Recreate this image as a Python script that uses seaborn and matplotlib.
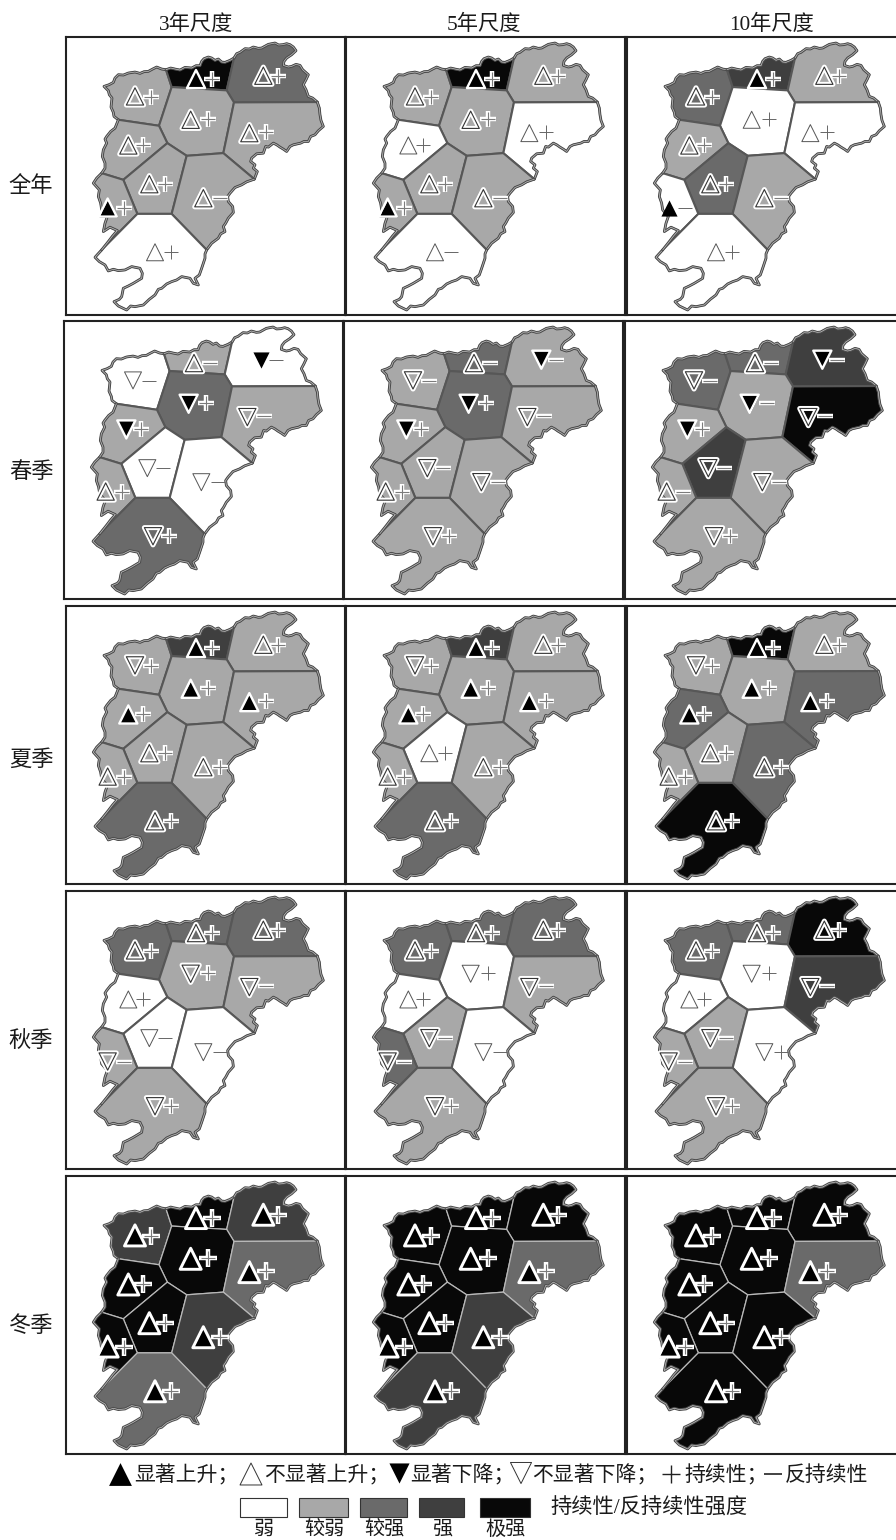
import pandas as pd
import seaborn as sns
import matplotlib.pyplot as plt
import matplotlib.patheffects as pe
from matplotlib.patches import Rectangle

scales = ["3年尺度", "5年尺度", "10年尺度"]
seasons = ["全年", "春季", "夏季", "秋季", "冬季"]
regions = ["NW", "N", "NE", "C", "E", "W", "SC", "SE", "FW", "S"]
level_names = ["弱", "较弱", "较强", "强", "极强"]
level_colors = ["#ffffff", "#a8a8a8", "#6a6a6a", "#3f3f3f", "#080808"]

# one list per scale, regions in the order above. 0-4 = strength level
year_levels = [[1, 4, 2, 1, 1, 1, 1, 1, 1, 0], [1, 4, 1, 1, 0, 0, 1, 1, 1, 0], [2, 3, 1, 0, 0, 1, 2, 1, 0, 0]]
spring_levels = [[0, 1, 0, 2, 1, 1, 0, 0, 1, 2], [1, 2, 1, 2, 1, 1, 1, 1, 1, 1], [2, 2, 3, 1, 4, 1, 3, 1, 1, 1]]
summer_levels = [[1, 3, 1, 1, 1, 1, 1, 1, 1, 2], [1, 3, 1, 1, 1, 1, 0, 1, 1, 2], [1, 4, 1, 1, 2, 2, 1, 2, 1, 4]]
autumn_levels = [[2, 2, 2, 1, 1, 0, 0, 0, 1, 1], [2, 2, 2, 0, 1, 0, 1, 0, 2, 1], [2, 2, 4, 0, 3, 0, 1, 0, 1, 1]]
winter_levels = [[3, 4, 3, 4, 2, 4, 4, 3, 4, 2], [4, 4, 4, 4, 2, 4, 4, 3, 4, 3], [4, 4, 4, 4, 2, 4, 4, 4, 4, 4]]

# U/D = significant rise/fall (filled), u/d = not significant (open)
year_trend = ["uUuuuuuuUu", "uUuuuuuuUu", "uUuuuuuuUu"]
spring_trend = ["duDDdDddud", "duDDdDddud", "duDDdDddud"]
summer_trend = ["dUuUUUuuuu", "dUuUUUuuuu", "dUuUUUuuuu"]
autumn_trend = ["uuuddudddd", "uuuddudddd", "uuuddudddd"]
winter_trend = ["UUUUUUUUUU", "UUUUUUUUUU", "UUUUUUUUUU"]

year_sign = ["+++++++-++", "+++++++-+-", "+++++++--+"]
spring_sign = ["---+-+--++", "---+-+--++", "-----+---+"]
summer_sign = ["++++++++++", "++++++++++", "++++++++++"]
autumn_sign = ["++++-+---+", "++++-+---+", "++++-+-+-+"]
winter_sign = ["++++++++++", "++++++++++", "++++++++++"]

# outline of the province, traced in panel units
coast_nw = [(175, 270), (162, 260), (160, 248), (153, 232), (156, 205), (148, 195), (145, 183), (132, 170), (147, 165),
            (160, 158), (165, 145), (175, 135), (190, 136), (205, 130), (225, 127), (240, 131), (252, 126), (265, 125),
            (278, 118), (290, 112), (305, 118), (318, 120)]
coast_n = [(318, 120), (332, 115), (345, 118), (360, 121), (375, 113), (395, 115), (408, 108), (420, 108), (425, 95),
           (432, 87), (445, 82), (455, 85), (465, 92), (475, 88), (485, 97), (495, 98), (510, 92), (522, 85)]
coast_ne = [(522, 85), (530, 72), (540, 68), (555, 57), (568, 58), (580, 52), (595, 56), (605, 55), (625, 44), (645, 40),
            (656, 46), (668, 45), (680, 42), (690, 45), (700, 52), (708, 63), (695, 75), (680, 85), (672, 95), (670, 107),
            (685, 112), (695, 110), (708, 104), (720, 107), (728, 120), (745, 135), (738, 150), (730, 165), (738, 180),
            (745, 200), (758, 205), (772, 217)]
coast_e = [(772, 217), (778, 235), (780, 255), (783, 272), (790, 290), (775, 303), (765, 315), (752, 320), (745, 335),
           (732, 335), (722, 340), (700, 345), (690, 350), (680, 365), (670, 358), (660, 352), (650, 345), (640, 340),
           (625, 352), (617, 350), (610, 370), (590, 372), (575, 385), (572, 395), (585, 405), (580, 415), (592, 425), (583, 448)]
coast_se = [(583, 448), (560, 456), (545, 465), (525, 473), (510, 490), (503, 500), (505, 515), (518, 530), (520, 548),
            (505, 565), (497, 580), (490, 590), (495, 605), (482, 612), (475, 625), (455, 640), (440, 660)]
coast_s = [(440, 660), (435, 672), (435, 685), (425, 715), (418, 735), (405, 745), (415, 765), (400, 760), (390, 745),
           (365, 740), (350, 750), (335, 755), (320, 762), (305, 775), (295, 778), (285, 795), (268, 808), (250, 825),
           (225, 830), (212, 828), (200, 840), (175, 828), (162, 815), (178, 808), (185, 800), (190, 775), (205, 768),
           (220, 760), (245, 745), (247, 730), (240, 715), (215, 710), (195, 720), (175, 722), (160, 718), (145, 723),
           (135, 705), (118, 695), (105, 682), (125, 660)]
coast_fw = [(125, 660), (145, 635), (158, 618), (172, 602), (150, 592), (130, 605), (135, 580), (142, 560), (125, 540),
            (122, 520), (115, 500), (118, 480), (100, 460), (110, 445), (125, 430)]
coast_w = [(125, 430), (135, 415), (135, 400), (127, 380), (130, 360), (140, 340), (135, 328), (140, 320), (152, 305), (165, 295), (175, 270)]

# inner border nodes
B, C, E, F, G = (335, 172), (500, 182), (522, 218), (490, 370), (380, 378)
H, I, L, M, N = (322, 340), (297, 288), (190, 450), (232, 552), (335, 552)

polygons = {
    "NW": coast_nw + [B, I],
    "N": coast_n + [C, B],
    "NE": coast_ne + [E, C],
    "C": [B, C, E, F, G, H, I],
    "E": coast_e + [F, E],
    "W": coast_w + [I, H, L],
    "SC": [H, G, N, M, L],
    "SE": [G, F] + coast_se + [N],
    "S": [M, N] + coast_s,
    "FW": coast_fw + [L, M],
}
coast_parts = [coast_nw, coast_n, coast_ne, coast_e, coast_se, coast_s, coast_fw, coast_w]

# symbol anchors, same region order
tri_x = [225, 408, 610, 392, 568, 205, 268, 430, 143, 285]
tri_y = [200, 148, 138, 270, 310, 347, 463, 505, 533, 667]
sign_x = [273, 457, 655, 445, 617, 250, 315, 480, 192, 332]
sign_y = [203, 147, 138, 268, 308, 347, 463, 503, 533, 667]

levels_all = [year_levels, spring_levels, summer_levels, autumn_levels, winter_levels]
trend_all = [year_trend, spring_trend, summer_trend, autumn_trend, winter_trend]
sign_all = [year_sign, spring_sign, summer_sign, autumn_sign, winter_sign]

sns.set_theme(style="white")
plt.rcParams["font.family"] = ["Liberation Serif", "Noto Sans CJK SC", "DejaVu Sans"]

W_PX, H_PX = 896, 1540
fig = plt.figure(figsize=(W_PX / 100, H_PX / 100), dpi=100)
fig.patch.set_facecolor("white")

row_tops = [37, 321, 606, 891, 1176]
row_shift = [0, -2, 0, 0, 0]
col_lefts = [66, 346, 627]
PANEL_W, PANEL_H = 279, 278
label_y = [187, 473, 761, 1042, 1327]


def dot(ax, x, y, marker, s, z=5, **kw):
    sns.scatterplot(x=[x], y=[y], marker=marker, s=s, ax=ax, legend=False, zorder=z, **kw)


def draw_symbols(ax, df, winter):
    mk = {"u": "^", "U": "^", "d": "v", "D": "v"}
    for _, r in df.iterrows():
        m = mk[r.trend]
        solid = r.trend in "UD"
        if r.level == 0:
            # plain symbols on white regions
            if solid:
                dot(ax, r.tx, r.ty, m, 135, color="black", linewidth=0)
            else:
                dot(ax, r.tx, r.ty, m, 150, facecolor="none", edgecolor="#555555", linewidth=0.7)
        else:
            if solid:
                size = 230 if winter else 170
                dot(ax, r.tx, r.ty, m, size, z=5, color="black", linewidth=0)
                dot(ax, r.tx, r.ty, m, size, z=6, facecolor="none", edgecolor="white", linewidth=2.1 if winter else 1.7)
            else:
                dot(ax, r.tx, r.ty, m, 155, z=5, facecolor="none", edgecolor="white", linewidth=3.6)
                dot(ax, r.tx, r.ty, m, 155, z=6, facecolor="none", edgecolor="#333333", linewidth=0.8)
        sm = "+" if r.sign == "+" else "_"
        if r.level == 0:
            dot(ax, r.sx, r.sy, sm, 100, color="#666666", linewidth=0.7)
        else:
            dot(ax, r.sx, r.sy, sm, 150 if winter else 130, color="white", linewidth=3.2)
            dot(ax, r.sx, r.sy, sm, 100 if winter else 90, z=6, color="#7c7c7c", linewidth=0.8)


for i, season in enumerate(seasons):
    for j in range(3):
        left = col_lefts[j] + row_shift[i]
        top = row_tops[i]
        ax = fig.add_axes([left / W_PX, 1 - (top + PANEL_H) / H_PX, PANEL_W / W_PX, PANEL_H / H_PX])
        ax.set_xlim(18, 855)
        ax.set_ylim(855, 22)
        ax.set_xticks([])
        ax.set_yticks([])
        for sp in ax.spines.values():
            sp.set_linewidth(1.5)
            sp.set_color("#222222")
            sp.set_visible(True)

        lv = levels_all[i][j]
        edge = "#b8b8b8" if i == 4 else "#575757"
        for k, name in enumerate(regions):
            xs, ys = zip(*polygons[name])
            ax.fill(xs, ys, facecolor=level_colors[lv[k]], edgecolor=edge, linewidth=0.9 if i == 4 else 1.5, joinstyle="round", zorder=2)
        for part in coast_parts:
            xs, ys = zip(*part)
            ax.plot(xs, ys, color="#c4c4c4", linewidth=0.5, zorder=4, solid_joinstyle="round",
                    path_effects=[pe.Stroke(linewidth=2.0, foreground="#4c4c4c"), pe.Normal()])

        panel_df = pd.DataFrame({"level": lv, "trend": list(trend_all[i][j]), "sign": list(sign_all[i][j]),
                                 "tx": tri_x, "ty": tri_y, "sx": sign_x, "sy": sign_y})
        draw_symbols(ax, panel_df, i == 4)
        ax.set_xlabel("")
        ax.set_ylabel("")

    fig.text(31 / W_PX, 1 - label_y[i] / H_PX, season, ha="center", va="center", fontsize=16, color="#1a1a1a")

header_x = [196, 484, 772]
for x, t in zip(header_x, scales):
    fig.text(x / W_PX, 1 - 25 / H_PX, t, ha="center", va="center", fontsize=15.3, color="#1a1a1a")

# legend, pixel coordinates on a figure wide axes
lax = fig.add_axes([0, 0, 1, 1], facecolor="none", zorder=10)
lax.set_xlim(0, W_PX)
lax.set_ylim(H_PX, 0)
lax.axis("off")
dot(lax, 120, 1474, "^", 270, color="black", linewidth=0)
dot(lax, 251, 1474, "^", 250, facecolor="none", edgecolor="#333333", linewidth=0.7)
dot(lax, 399, 1473, "v", 210, color="black", linewidth=0)
dot(lax, 521, 1473, "v", 230, facecolor="none", edgecolor="#333333", linewidth=0.7)
dot(lax, 671, 1474, "+", 180, color="#222222", linewidth=1.0)
dot(lax, 773, 1474, "_", 180, color="#222222", linewidth=1.2)
legend_text = ["显著上升；", "不显著上升；", "显著下降；", "不显著下降；", "持续性；", "反持续性"]
legend_text_x = [134, 264, 410, 532, 684, 785]
for x, t in zip(legend_text_x, legend_text):
    lax.text(x, 1476, t, ha="left", va="center", fontsize=15, color="#1a1a1a")

swatch_x = [240, 299, 360, 419, 480]
swatch_w = [47, 49, 47, 45, 50]
label_x = [264, 324, 384, 442, 506]
for k in range(5):
    lax.add_patch(Rectangle((swatch_x[k], 1498), swatch_w[k], 19, facecolor=level_colors[k], edgecolor="#333333", linewidth=0.8))
    lax.text(label_x[k], 1530, level_names[k], ha="center", va="center", fontsize=14.5, color="#1a1a1a")
lax.text(649, 1509, "持续性/反持续性强度", ha="center", va="center", fontsize=15.3, color="#1a1a1a")

plt.savefig("out.png", dpi=100)
